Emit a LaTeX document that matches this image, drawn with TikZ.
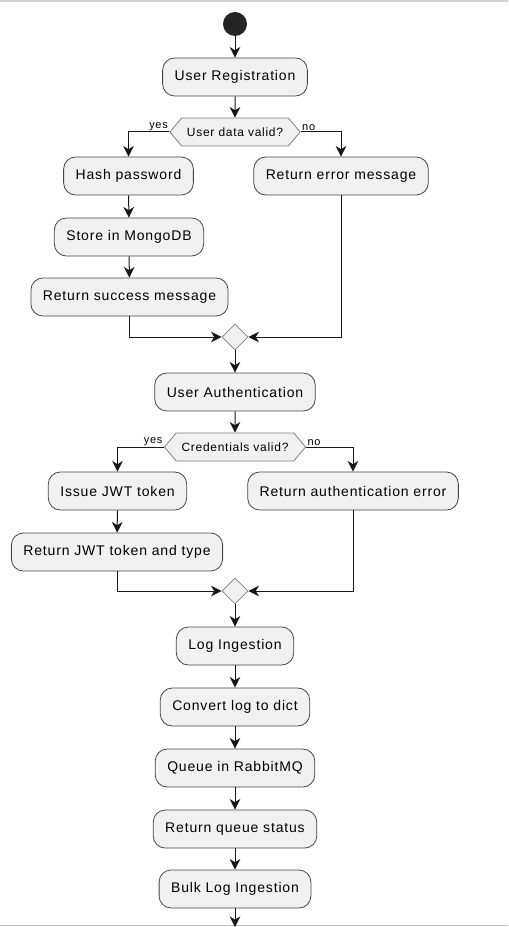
\documentclass[tikz,border=0pt]{standalone}
\usepackage{fontspec}
\setmainfont{Liberation Sans}
\newfontfamily\actfont[LetterSpace=6]{Liberation Sans}
\usetikzlibrary{shapes,arrows.meta}
\definecolor{boxfill}{HTML}{F1F1F1}
\definecolor{ln}{HTML}{181818}

\begin{document}
\begin{tikzpicture}[x=0.75pt,y=-0.75pt,
act/.style={draw=ln!80, line width=0.6pt, rounded corners=9pt, fill=boxfill, minimum height=28.5pt, inner xsep=9pt, font=\actfont\fontsize{10.5}{12}\selectfont},
dec/.style={draw=ln!55, line width=0.6pt, signal, signal to=west and east, signal pointer angle=100, fill=boxfill, minimum height=21pt, inner xsep=4pt, inner ysep=0pt, font=\actfont\fontsize{9}{11}\selectfont},
mrg/.style={diamond, draw=ln!55, line width=0.6pt, fill=boxfill, minimum size=19.5pt, inner sep=0},
lab/.style={font=\actfont\fontsize{8.25}{10}\selectfont, inner sep=1pt},
arr/.style={draw=ln, line width=0.75pt, -{Stealth[length=8pt,width=8pt,inset=2.5pt]}}]
	\useasboundingbox (0,0) rectangle (508,927);
	\draw[gray!35, line width=1pt] (0,1) -- (508,1);
	\draw[blue!10!gray!45, line width=1.2pt] (0,925.5) -- (508,925.5);

	\node[circle, fill=ln!95, minimum size=18pt, inner sep=0] at (235,24) (start) {};
	\node[act] at (235,77) (reg) {User Registration};
	\node[dec] at (235,132) (d1) {User data valid?};
	\node[lab, anchor=south east] at (d1.west) (yes1) {yes};
	\node[lab, anchor=south west] at (d1.east) (no1) {no};
	\node[act] at (128.5,176) (hash) {Hash password};
	\node[act] at (341,176) (err) {Return error message};
	\node[act] at (129,237) (store) {Store in MongoDB};
	\node[act] at (129.5,297) (succ) {Return success message};
	\node[mrg] at (235,337) (m1) {};

	\node[act] at (235,392) (auth) {User Authentication};
	\node[dec] at (235,447) (d2) {Credentials valid?};
	\node[lab, anchor=south east] at (d2.west) (yes2) {yes};
	\node[lab, anchor=south west] at (d2.east) (no2) {no};
	\node[act] at (117.5,491) (jwt) {Issue JWT token};
	\node[act] at (353,491) (autherr) {Return authentication error};
	\node[act] at (117,552) (ret) {Return JWT token and type};
	\node[mrg] at (235,591) (m2) {};

	\node[act] at (235,646) (log) {Log Ingestion};
	\node[act] at (235,707) (conv) {Convert log to dict};
	\node[act] at (235,768) (queue) {Queue in RabbitMQ};
	\node[act] at (235,829) (status) {Return queue status};
	\node[act] at (235,889) (bulk) {Bulk Log Ingestion};
	\coordinate (more) at (235,927);

	\draw[arr] (start) -- (reg);
	\draw[arr] (reg) -- (d1);
	\draw[arr] (d1.west) -| (hash.north);
	\draw[arr] (d1.east) -| (err.north);
	\draw[arr] (hash) -- (store);
	\draw[arr] (store) -- (succ);
	\draw[arr] (succ.south) |- (m1.west);
	\draw[arr] (err.south) |- (m1.east);
	\draw[arr] (m1) -- (auth);
	\draw[arr] (auth) -- (d2);
	\draw[arr] (d2.west) -| (jwt.north);
	\draw[arr] (d2.east) -| (autherr.north);
	\draw[arr] (jwt) -- (ret);
	\draw[arr] (ret.south) |- (m2.west);
	\draw[arr] (autherr.south) |- (m2.east);
	\draw[arr] (m2) -- (log);
	\draw[arr] (log) -- (conv);
	\draw[arr] (conv) -- (queue);
	\draw[arr] (queue) -- (status);
	\draw[arr] (status) -- (bulk);
	\draw[arr] (bulk) -- (more);
\end{tikzpicture}
\end{document}
